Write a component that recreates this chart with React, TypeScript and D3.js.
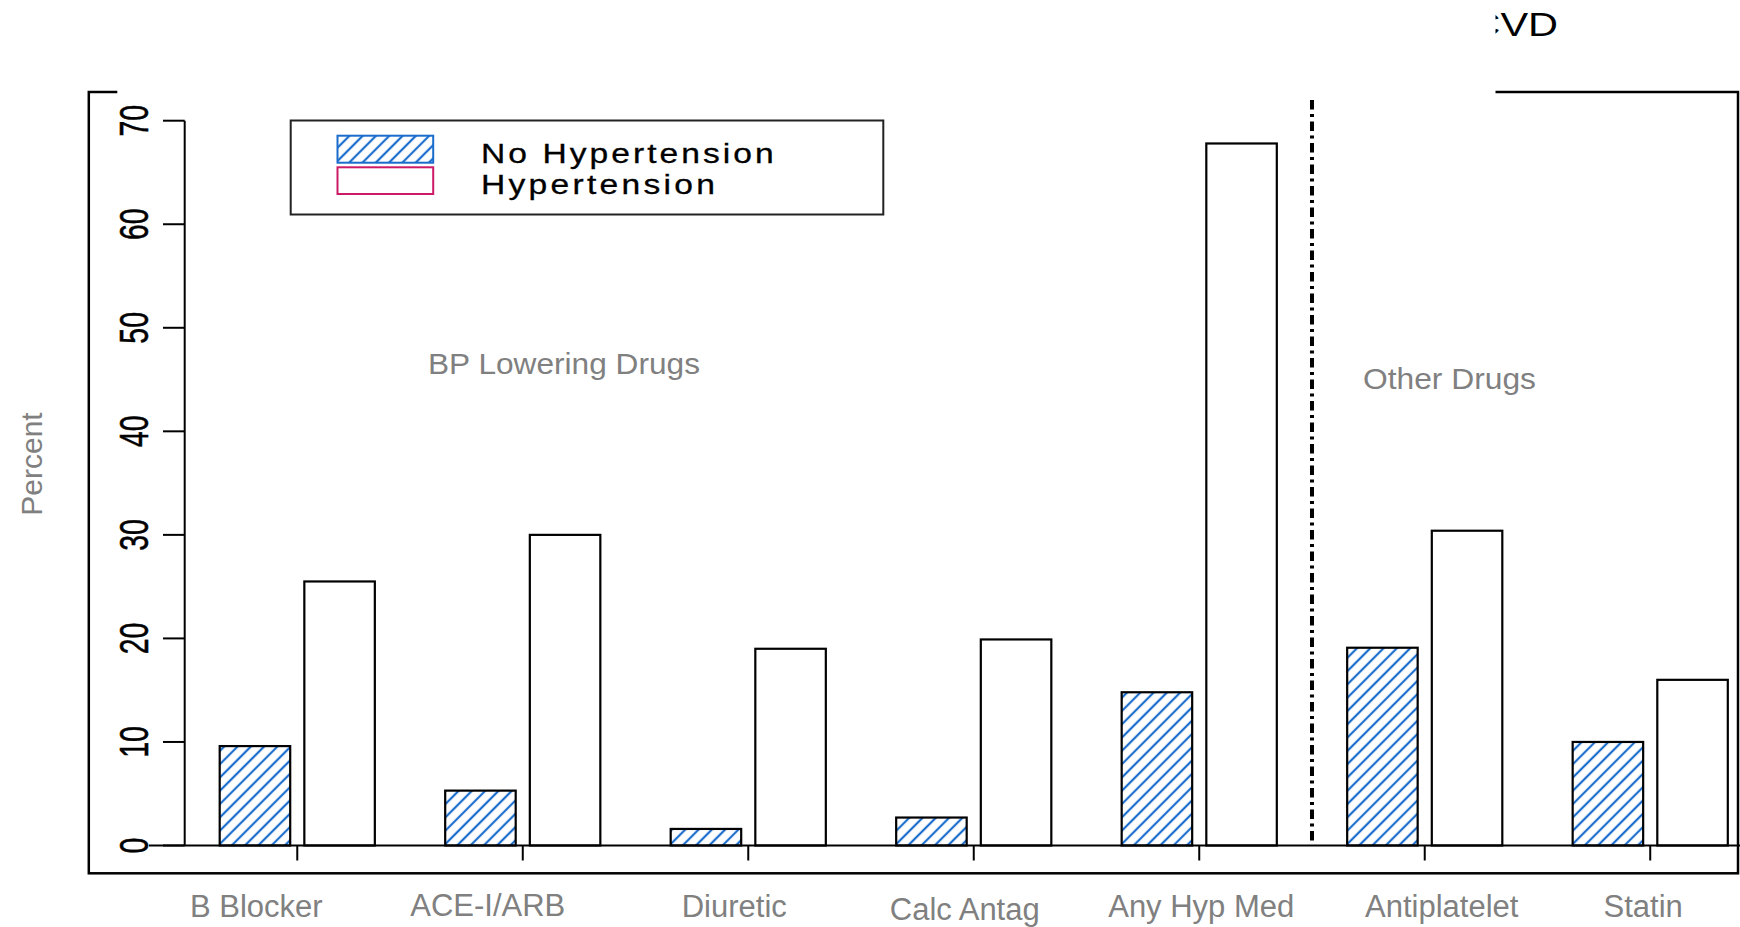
import React from 'react';
import * as d3 from 'd3';

// chart data
const categories = ['B Blocker', 'ACE-I/ARB', 'Diuretic', 'Calc Antag', 'Any Hyp Med', 'Antiplatelet', 'Statin'];
const seriesNames = ['No Hypertension', 'Hypertension'];
const noHypertension = [9.6, 5.3, 1.6, 2.7, 14.8, 19.1, 10.0];
const hypertension = [25.5, 30.0, 19.0, 19.9, 67.8, 30.4, 16.0];
const yTicks = [0, 10, 20, 30, 40, 50, 60, 70];
const sectionNotes = ['BP Lowering Drugs', 'Other Drugs'];

const W = 1740;
const H = 927;
const FONT = '"Liberation Sans", Arial, Helvetica, sans-serif';
const BLUE = '#1a6dcc';
const PINK = '#cc1a66';
const GRAY = '#808080';

// the category labels were placed by hand on the slide, not centred on the ticks
const labelNudge = [-41, -35, -14, -9, 2, 17, -7];
const labelBaseline = [917, 916, 917, 920, 917, 917, 917];

export default function App() {
  const x0 = d3.scaleBand<string>()
    .domain(categories)
    .range([219.7, 1727.8])
    .paddingInner(0.312)
    .paddingOuter(0);
  const x1 = d3.scaleBand<string>()
    .domain(seriesNames)
    .range([0, x0.bandwidth()])
    .paddingInner(0.167);
  const y = d3.scaleLinear().domain([0, 70]).range([845.5, 120.7]);

  const base = y(0);
  const values = [noHypertension, hypertension];
  const centre = (c: string) => (x0(c) as number) + x0.bandwidth() / 2;
  // divider between "Any Hyp Med" and "Antiplatelet"
  const divX = ((x0(categories[4]) as number) + x0.bandwidth() + (x0(categories[5]) as number)) / 2;

  return (
    <svg width={W} height={H} style={{ position: 'absolute', left: 0, top: 0, display: 'block', background: '#fff' }}
      fontFamily={FONT}>
      <defs>
        <pattern id="hatch" patternUnits="userSpaceOnUse" width={9.4} height={9.4} patternTransform="rotate(45)">
          <rect width={9.4} height={9.4} fill="#fff" />
          <line x1={4.7} y1={0} x2={4.7} y2={9.4} stroke={BLUE} strokeWidth={2.2} />
        </pattern>
      </defs>

      {/* title, mostly hidden behind the white box like on the slide */}
      <text transform="translate(1558,36) scale(1.22,1)" textAnchor="end" fontSize={34} fill="#000">CVD</text>

      {/* outer frame */}
      <rect x={88.8} y={92} width={1649.2} height={781.3} fill="none" stroke="#000" strokeWidth={2.5} />
      <rect x={117.3} y={0} width={1378.2} height={94.5} fill="#fff" />

      {/* y axis */}
      <line x1={184.7} x2={184.7} y1={y(0)} y2={y(70)} stroke="#000" strokeWidth={2} />
      {yTicks.map(t => (
        <g key={t}>
          <line x1={163} x2={184.7} y1={y(t)} y2={y(t)} stroke="#000" strokeWidth={2} />
          <text transform={`translate(148,${y(t)}) rotate(-90) scale(1,1.4)`} textAnchor="middle" fontSize={28.5}
            fill="#000" stroke="#000" strokeWidth={0.4}>
            {t}
          </text>
        </g>
      ))}
      <text transform="translate(42,464) rotate(-90)" textAnchor="middle" fontSize={30} fill={GRAY}>Percent</text>

      {/* bars */}
      {categories.map((c, i) => (
        <g key={c} transform={`translate(${x0(c)},0)`}>
          {seriesNames.map((s, j) => (
            <rect key={s}
              x={x1(s)}
              y={y(values[j][i])}
              width={x1.bandwidth()}
              height={base - y(values[j][i])}
              fill={j === 0 ? 'url(#hatch)' : '#fff'}
              stroke="#000"
              strokeWidth={2.2}
            />
          ))}
        </g>
      ))}

      {/* baseline and group ticks */}
      <line x1={149} x2={W} y1={base} y2={base} stroke="#000" strokeWidth={2} />
      {categories.map(c => (
        <line key={c} x1={centre(c)} x2={centre(c)} y1={base} y2={base + 15} stroke="#000" strokeWidth={2} />
      ))}

      {/* category labels */}
      {categories.map((c, i) => (
        <text key={c} x={centre(c) + labelNudge[i]} y={labelBaseline[i]} textAnchor="middle" fontSize={31} fill={GRAY}>
          {c}
        </text>
      ))}

      {/* dash-dot divider */}
      <line x1={divX} x2={divX} y1={100} y2={base} stroke="#000" strokeWidth={4} strokeDasharray="9.5,4.5,3,4.5" />

      {/* section notes */}
      <text x={428} y={374} fontSize={30} fill={GRAY} textLength={272} lengthAdjust="spacingAndGlyphs">{sectionNotes[0]}</text>
      <text x={1363} y={389} fontSize={30} fill={GRAY} textLength={173} lengthAdjust="spacingAndGlyphs">{sectionNotes[1]}</text>

      {/* legend */}
      <rect x={290.7} y={120.5} width={592.6} height={94} fill="#fff" stroke="#222" strokeWidth={2} />
      <rect x={337.5} y={135.7} width={95.7} height={27} fill="url(#hatch)" stroke={BLUE} strokeWidth={2} />
      <rect x={337.5} y={167.3} width={95.7} height={26.7} fill="#fff" stroke={PINK} strokeWidth={2} />
      <text transform="translate(481,163) scale(1.2,1)" fontSize={28} fill="#000" stroke="#000" strokeWidth={0.3}
        textLength={244} lengthAdjust="spacing">
        {seriesNames[0]}
      </text>
      <text transform="translate(481,194) scale(1.2,1)" fontSize={28} fill="#000" stroke="#000" strokeWidth={0.3}
        textLength={195} lengthAdjust="spacing">
        {seriesNames[1]}
      </text>
    </svg>
  );
}
